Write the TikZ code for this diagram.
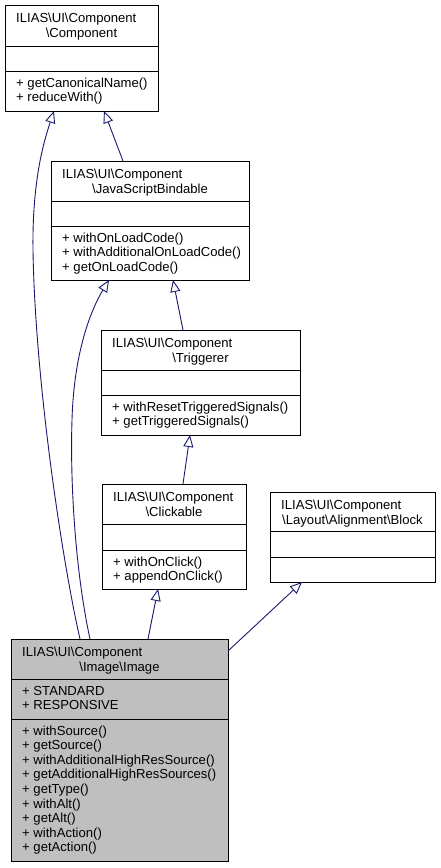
\documentclass[tikz,border=0pt]{standalone}
\usepackage{fontspec}
\setmainfont{Liberation Sans}
\usetikzlibrary{arrows.meta}
\newcommand\bsl{\textbackslash}
\definecolor{edgeblue}{HTML}{191970}
\definecolor{curfill}{HTML}{BFBFBF}
\begin{document}
\begin{tikzpicture}[x=1pt,y=-1pt,
  classbox/.style={draw=black, line width=1pt, anchor=north west, inner sep=0pt, outer sep=0pt},
  divline/.style={draw=black, line width=1pt},
  mtxt/.style={anchor=base west, inner sep=0pt, font=\fontsize{13.1}{15}\selectfont},
  ctxt/.style={anchor=base, inner sep=0pt, font=\fontsize{13.1}{15}\selectfont},
  inherit/.style={draw=edgeblue, line width=0.9pt, -{Triangle[open, length=12pt, width=10pt, fill=white]}}
]
\useasboundingbox (0,0) rectangle (440,868);

% Component
\node[classbox, minimum width=153pt, minimum height=106pt] (comp) at (5,5) {};
\draw[divline] (5,46) -- (158,46);
\draw[divline] (5,71) -- (158,71);
\node[mtxt] (compt1) at (16,22) {ILIAS\bsl UI\bsl Component};
\node[ctxt] (compt2) at (81.5,37) {\bsl Component};
\node[mtxt] (compm1) at (16,87) {+ getCanonicalName()};
\node[mtxt] (compm2) at (16,101.6) {+ reduceWith()};

% JavaScriptBindable
\node[classbox, minimum width=198pt, minimum height=119pt] (jsb) at (51,161) {};
\draw[divline] (51,201) -- (249,201);
\draw[divline] (51,226) -- (249,226);
\node[mtxt] (jsbt1) at (62,178) {ILIAS\bsl UI\bsl Component};
\node[ctxt] (jsbt2) at (150,193) {\bsl JavaScriptBindable};
\node[mtxt] (jsbm1) at (62,242) {+ withOnLoadCode()};
\node[mtxt] (jsbm2) at (62,256.6) {+ withAdditionalOnLoadCode()};
\node[mtxt] (jsbm3) at (62,271.2) {+ getOnLoadCode()};

% Triggerer
\node[classbox, minimum width=199pt, minimum height=105pt] (trig) at (101,330) {};
\draw[divline] (101,370) -- (300,370);
\draw[divline] (101,395) -- (300,395);
\node[mtxt] (trigt1) at (112,347) {ILIAS\bsl UI\bsl Component};
\node[ctxt] (trigt2) at (200.5,362) {\bsl Triggerer};
\node[mtxt] (trigm1) at (112,411) {+ withResetTriggeredSignals()};
\node[mtxt] (trigm2) at (112,425.6) {+ getTriggeredSignals()};

% Clickable
\node[classbox, minimum width=144pt, minimum height=105pt] (click) at (102,484) {};
\draw[divline] (102,524) -- (246,524);
\draw[divline] (102,550) -- (246,550);
\node[mtxt] (clickt1) at (113,501) {ILIAS\bsl UI\bsl Component};
\node[ctxt] (clickt2) at (174,516) {\bsl Clickable};
\node[mtxt] (clickm1) at (113,566) {+ withOnClick()};
\node[mtxt] (clickm2) at (113,580.6) {+ appendOnClick()};

% Block
\node[classbox, minimum width=165pt, minimum height=90pt] (block) at (270,492) {};
\draw[divline] (270,531) -- (435,531);
\draw[divline] (270,557) -- (435,557);
\node[mtxt] (blockt1) at (281,509) {ILIAS\bsl UI\bsl Component};
\node[ctxt] (blockt2) at (352.5,524) {\bsl Layout\bsl Alignment\bsl Block};

% Image
\node[classbox, fill=curfill, minimum width=217pt, minimum height=222pt] (img) at (11,639) {};
\draw[divline] (11,679) -- (228,679);
\draw[divline] (11,719) -- (228,719);
\node[mtxt] (imgt1) at (22,656) {ILIAS\bsl UI\bsl Component};
\node[ctxt] (imgt2) at (119.5,671) {\bsl Image\bsl Image};
\node[mtxt] (imga1) at (22,695) {+ STANDARD};
\node[mtxt] (imga2) at (22,709.6) {+ RESPONSIVE};
\node[mtxt] (imgm1) at (22,735) {+ withSource()};
\node[mtxt] (imgm2) at (22,749.6) {+ getSource()};
\node[mtxt] (imgm3) at (22,764.2) {+ withAdditionalHighResSource()};
\node[mtxt] (imgm4) at (22,778.8) {+ getAdditionalHighResSources()};
\node[mtxt] (imgm5) at (22,793.4) {+ getType()};
\node[mtxt] (imgm6) at (22,808) {+ withAlt()};
\node[mtxt] (imgm7) at (22,822.6) {+ getAlt()};
\node[mtxt] (imgm8) at (22,837.2) {+ withAction()};
\node[mtxt] (imgm9) at (22,851.8) {+ getAction()};

% Connectors
\draw[inherit] ([xshift=72pt]jsb.north west) -- ([xshift=99pt]comp.south west);
\draw[inherit] ([xshift=69pt]img.north west) .. controls (62,560) and (35,380) .. (33,250)
   .. controls (32,178) and (45,138) .. ([xshift=49pt]comp.south west);
\draw[inherit] ([xshift=82pt]trig.north west) -- ([xshift=122pt]jsb.south west);
\draw[inherit] ([xshift=79pt]img.north west) .. controls (75,570) and (70,480) .. (72,420)
   .. controls (74,350) and (92,308) .. ([xshift=58pt]jsb.south west);
\draw[inherit] ([xshift=81pt]click.north west) -- ([xshift=89pt]trig.south west);
\draw[inherit] ([xshift=137pt]img.north west) -- ([xshift=56pt]click.south west);
\draw[inherit] ([yshift=-12pt]img.north east) -- ([xshift=32pt]block.south west);
\end{tikzpicture}
\end{document}
